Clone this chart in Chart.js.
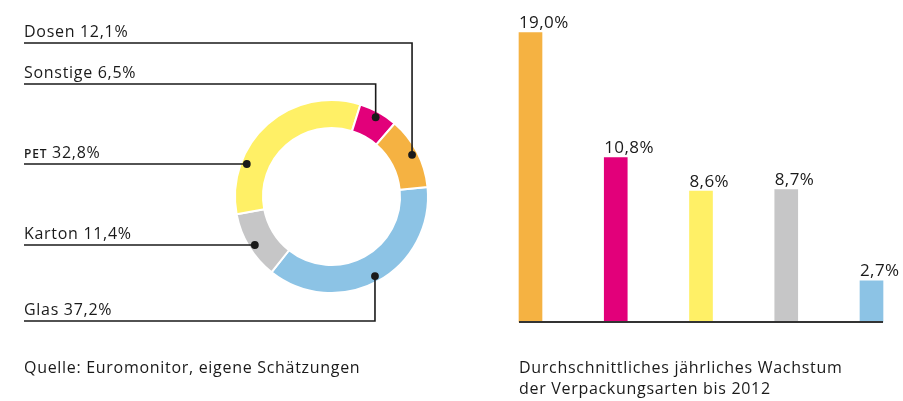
<!DOCTYPE html>
<html>
<head>
  <meta charset="utf-8" />
  <script src="https://cdn.jsdelivr.net/npm/chart.js@4.4.1/dist/chart.umd.min.js"></script>
  <style>
    body{margin:0;background:#fff;font-family:'Open Sans',sans-serif;color:#1a1a1a;}
    #wrap{position:relative;width:903px;height:401px;overflow:hidden;}
    #ringChart{position:absolute;left:0;top:0;}
    #barChart{position:absolute;left:500px;top:0;}
    .caption{position:absolute;font-size:16px;line-height:21px;letter-spacing:0.7px;color:#1a1a1a;white-space:nowrap;}
  </style>
</head>
<body>
<div id="wrap">
  <canvas id="ringChart" width="500" height="401"></canvas>
  <canvas id="barChart" width="403" height="401"></canvas>
  <div class="caption" style="left:24px;top:357px;">Quelle: Euromonitor, eigene Schätzungen</div>
  <div class="caption" style="left:519px;top:357px;">Durchschnittliches jährliches Wachstum<br>der Verpackungsarten bis 2012</div>
</div>

<script>
/* ---------- Data ---------- */
const packTypes  = ['Dosen', 'Sonstige', 'PET', 'Karton', 'Glas'];
const shares     = [12.1, 6.5, 32.8, 11.4, 37.2];     // market share, %
const growth     = [19.0, 10.8, 8.6, 8.7, 2.7];       // avg. yearly growth, %
const packColors = ['#f5b242', '#e2007a', '#fff066', '#c6c6c7', '#8cc3e5'];
const ringOrder  = ['Glas', 'Karton', 'PET', 'Sonstige', 'Dosen'];

const fmt = v => v.toFixed(1).replace('.', ',') + '%';
const INK = '#1a1a1a';

/* ---------- Ring labels with leader lines ---------- */
// row = y of the label rule, mode 'v' = go up/down from the dot, 'h' = dot sits on the rule
const leaderRows = {
  Dosen:    { row: 43,  mode: 'v' },
  Sonstige: { row: 84,  mode: 'v' },
  PET:      { row: 164, mode: 'h' },
  Karton:   { row: 245, mode: 'h' },
  Glas:     { row: 321, mode: 'v' }
};

const ringLabels = {
  id: 'ringLabels',
  afterDraw(chart){
    const ctx = chart.ctx;
    const arcs = chart.getDatasetMeta(0).data;
    ctx.save();
    ctx.strokeStyle = INK; ctx.fillStyle = INK; ctx.lineWidth = 1.6;
    arcs.forEach((arc, i) => {
      const name = ringOrder[i];
      const k = packTypes.indexOf(name);
      const {row, mode} = leaderRows[name];
      const r = arc.outerRadius * 0.94;
      let px, py;
      if(mode === 'v'){
        const mid = (arc.startAngle + arc.endAngle) / 2;
        px = arc.x + r * Math.cos(mid);
        py = arc.y + r * Math.sin(mid);
      } else {
        py = row;
        px = arc.x - Math.sqrt(r*r - (row - arc.y)**2);
      }
      ctx.beginPath();
      ctx.moveTo(px, py);
      ctx.lineTo(px, row);
      ctx.lineTo(24, row);
      ctx.stroke();
      ctx.beginPath(); ctx.arc(px, py, 3.9, 0, Math.PI*2); ctx.fill();

      // text
      ctx.textBaseline = 'alphabetic'; ctx.textAlign = 'left';
      let x = 24;
      if(name === 'PET'){
        ctx.font = '600 12px "Open Sans"';
        ctx.letterSpacing = '0.8px';
        ctx.fillText('PET', x, row - 6);
        x += ctx.measureText('PET').width;
        ctx.letterSpacing = '0.7px';
        ctx.font = '16px "Open Sans"';
        ctx.fillText(' ' + fmt(shares[k]), x, row - 6);
      } else {
        ctx.font = '16px "Open Sans"';
        ctx.letterSpacing = '0.7px';
        ctx.fillText(name + ' ' + fmt(shares[k]), x, row - 6);
      }
    });
    ctx.restore();
  }
};

new Chart(document.getElementById('ringChart'), {
  type: 'doughnut',
  data: {
    labels: ringOrder,
    datasets: [{
      data: ringOrder.map(n => shares[packTypes.indexOf(n)]),
      backgroundColor: ringOrder.map(n => packColors[packTypes.indexOf(n)]),
      borderColor: '#ffffff',
      borderWidth: 2
    }]
  },
  options: {
    responsive: false,
    animation: false,
    events: [],
    rotation: 84.4,
    cutout: '71%',
    layout: { padding: { left: 234, top: 99, right: 71, bottom: 107 } },
    plugins: { legend: { display: false }, tooltip: { enabled: false } }
  },
  plugins: [ringLabels]
});

/* ---------- Bar chart ---------- */
const barExtras = {
  id: 'barExtras',
  afterDatasetsDraw(chart){
    const ctx = chart.ctx;
    const bars = chart.getDatasetMeta(0).data;
    const y0 = chart.scales.y.getPixelForValue(0);
    ctx.save();
    const first = bars[0], last = bars[bars.length-1];
    ctx.strokeStyle = '#333'; ctx.lineWidth = 2.2;
    ctx.beginPath();
    ctx.moveTo(first.x - first.width/2, y0);
    ctx.lineTo(last.x + last.width/2, y0);
    ctx.stroke();
    ctx.fillStyle = INK;
    ctx.font = '17px "Open Sans"';
    ctx.letterSpacing = '0.4px';
    ctx.textAlign = 'left'; ctx.textBaseline = 'alphabetic';
    bars.forEach((b, i) => {
      ctx.fillText(fmt(growth[i]), b.x - b.width/2, b.y - 4.5);
    });
    ctx.restore();
  }
};

new Chart(document.getElementById('barChart'), {
  type: 'bar',
  data: {
    labels: packTypes,
    datasets: [{
      data: growth,
      backgroundColor: packColors,
      barThickness: 23,
      clip: false
    }]
  },
  options: {
    responsive: false,
    animation: false,
    events: [],
    layout: { padding: { left: 30.5, right: 31.5, top: 17.4, bottom: 79 } },
    scales: {
      x: { display: false, offset: false },
      y: { display: false, min: 0, max: 20 }
    },
    plugins: { legend: { display: false }, tooltip: { enabled: false } }
  },
  plugins: [barExtras]
});
</script>
</body>
</html>
